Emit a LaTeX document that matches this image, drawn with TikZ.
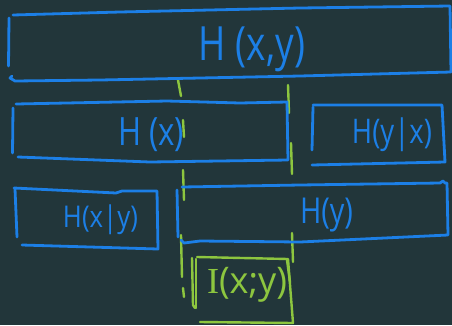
\documentclass[tikz,border=0pt]{standalone}
\usepackage{fontspec}
\setmainfont{Open Sans}
\newfontfamily\serifI{Liberation Serif}
\usepackage{graphicx}
\definecolor{bg}{HTML}{22363A}
\definecolor{pen}{HTML}{1C7FE6}
\definecolor{lime}{HTML}{8DC63F}
\newcommand\hw[3]{\resizebox*{#1}{#2}{#3}}
\begin{document}
\begin{tikzpicture}[x=1pt,y=-1pt,
  bluepen/.style={draw=pen,line width=2.8pt,line cap=round,line join=round},
  greenpen/.style={draw=lime,line width=2.4pt,line cap=round,line join=round},
  btext/.style={text=pen,inner sep=0pt,anchor=center},
  gtext/.style={text=lime,inner sep=0pt,anchor=center}]
\path[fill=bg] (0,0) rectangle (452,325);
\useasboundingbox (0,0) rectangle (452,325);
% green guide lines
\draw[greenpen] (178,80) -- (181,96);
\draw[greenpen] (183,120) -- (184,137);
\draw[greenpen] (183,170) -- (184,200);
\draw[greenpen] (181,235) -- (182,277);
\draw[greenpen] (183,288) -- (184,297);
\draw[greenpen] (288,85) -- (289,113);
\draw[greenpen] (291,143) -- (292,174);
\draw[greenpen] (292,233) -- (293,262);
% box H(x,y)
\draw[bluepen] (9,18) -- (8.5,66);
\draw[bluepen] (13,15) -- (120,12) -- (300,8) -- (450,6) -- (451,72) -- (300,76) -- (100,80) -- (15,81) -- (10,78) -- (12,76);
% box H(x)
\draw[bluepen] (13,108) -- (12.5,153);
\draw[bluepen] (16,104) -- (167,101) -- (240,103) -- (287,102) -- (288,160) -- (150,162) -- (18,157);
% box H(y|x)
\draw[bluepen] (313,107) -- (312,150);
\draw[bluepen] (313,105) -- (442,105) -- (445,162) -- (312,165);
% box H(x|y)
\draw[bluepen] (15,189) -- (17,237);
\draw[bluepen] (14,188) -- (116,193) -- (122,191) -- (157,191) -- (158,249) -- (22,245);
% box H(y)
\draw[bluepen] (177,190) -- (178,237);
\draw[bluepen] (182,187) -- (300,185) -- (440,183) -- (443,181) -- (445,183) -- (447,183) -- (448,235) -- (300,242) -- (200,241) -- (184,243) -- (181,240);
% box I(x;y)
\draw[greenpen] (192,258) -- (193,305) -- (195,308);
\draw[greenpen] (196,259) -- (196,308);
\draw[greenpen] (197,257) -- (288,259) -- (293,323) -- (200,322);
\draw[greenpen] (287,260) -- (290,282);
% texts
\node[btext] (hxy) at (252,49.5) {\hw{106pt}{45pt}{H (x,y)}};
\node[btext] (hx) at (151,135) {\hw{66pt}{34pt}{H (x)}};
\node[btext] (hyx) at (392,135) {\hw{80pt}{34pt}{H(y|x)}};
\node[btext] (hxgy) at (100.5,220) {\hw{75pt}{30pt}{H(x|y)}};
\node[btext] (hy) at (326.5,215) {\hw{53pt}{34pt}{H(y)}};
\node[gtext] (ixy) at (247,284.5) {\hw{80pt}{35pt}{{\serifI I}(x;y)}};
\end{tikzpicture}
\end{document}
